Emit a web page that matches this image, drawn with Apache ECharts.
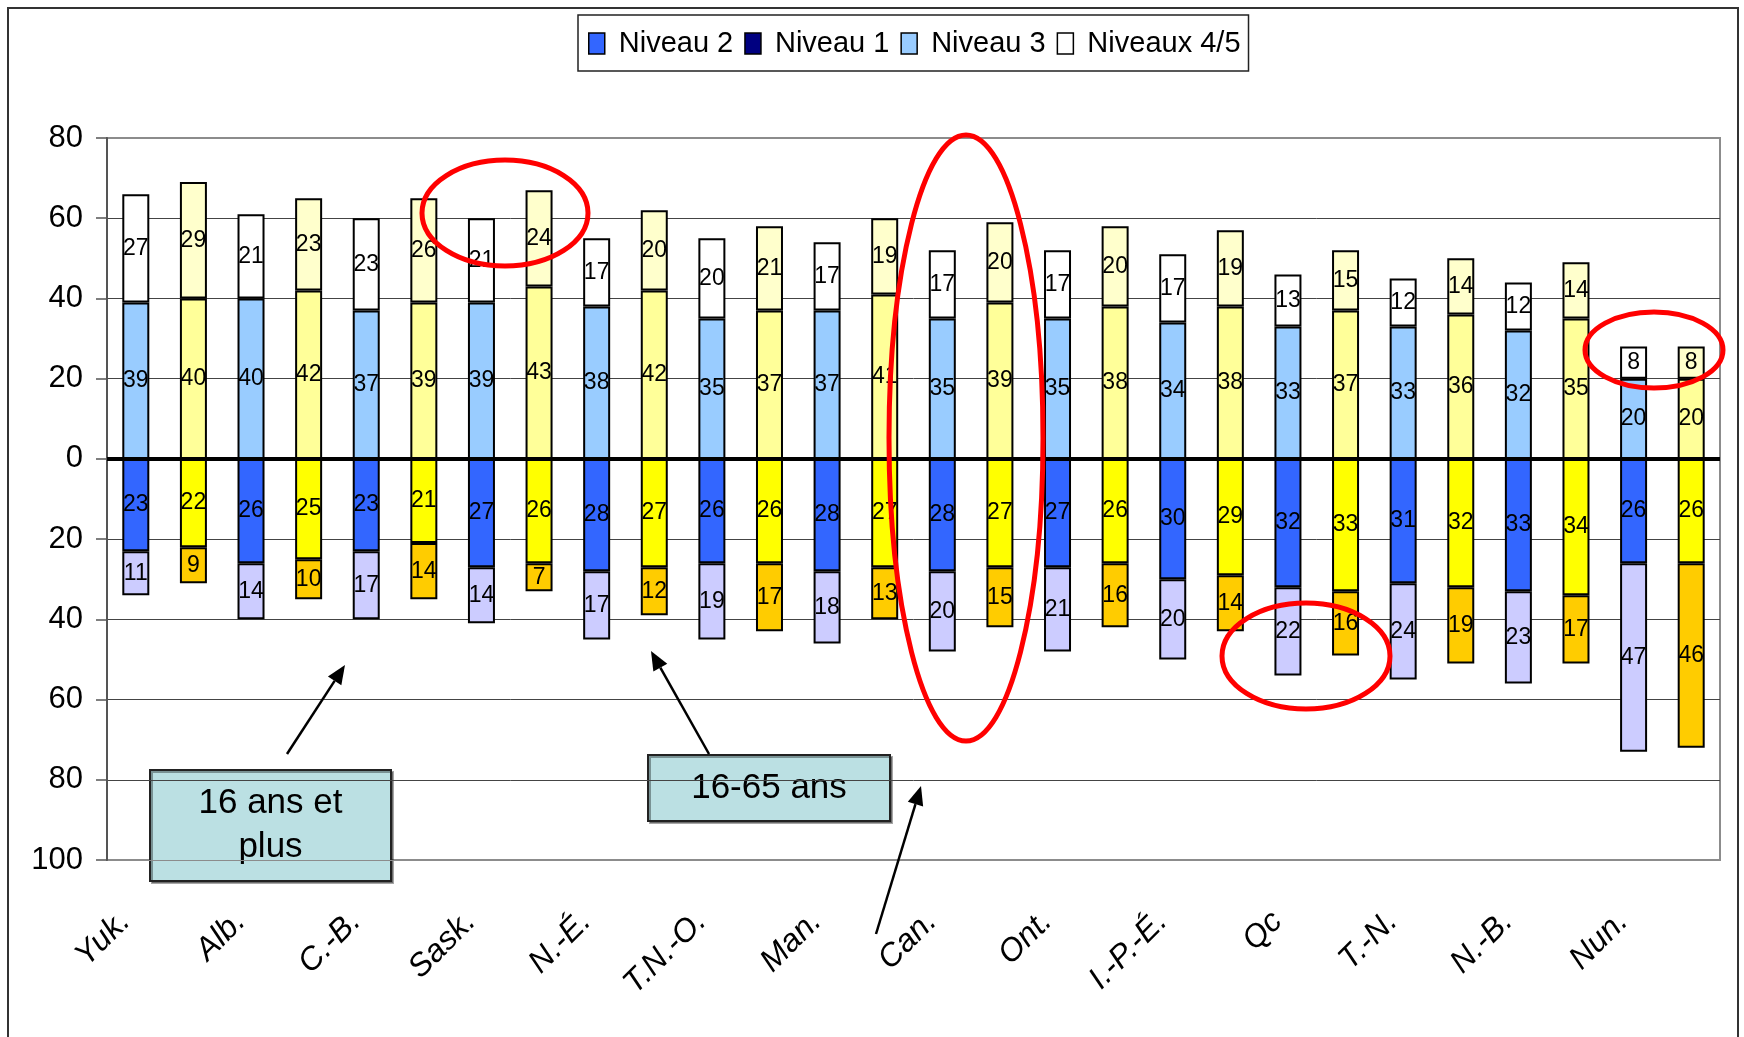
<!DOCTYPE html>
<html><head><meta charset="utf-8">
<script src="https://cdn.jsdelivr.net/npm/echarts@6/dist/echarts.min.js"></script>
<style>html,body{margin:0;padding:0;background:#fff}#c{width:1744px;height:1037px}</style>
</head><body><div id="c"></div>
<script>
const regions = ['Yuk.','Alb.','C.-B.','Sask.','N.-É.','T.N.-O.','Man.','Can.','Ont.','I.-P.-É.','Qc','T.-N.','N.-B.','Nun.'];
// 16 ans et plus
const n2_16   = [23,26,23,27,28,26,28,28,27,30,32,31,33,26];
const n1_16   = [11,14,17,14,17,19,18,20,21,20,22,24,23,47];
const n3_16   = [39,40,37,39,38,35,37,35,35,34,33,33,32,20];
const n45_16  = [27,21,23,21,17,20,17,17,17,17,13,12,12,8];
// 16-65 ans
const n2_1665  = [22,25,21,26,27,26,27,27,26,29,33,32,34,26];
const n1_1665  = [9,10,14,7,12,17,13,15,16,14,16,19,17,46];
const n3_1665  = [40,42,39,43,42,37,41,39,38,38,37,36,35,20];
const n45_1665 = [29,23,26,24,20,21,19,20,20,19,15,14,14,8];
const seriesNames = ['Niveau 2','Niveau 1','Niveau 3','Niveaux 4/5'];

const legendColors = ['#3366FF','#000080','#99CCFF','#FFFFFF'];
const colors16 = ['#3366FF','#CCCCFF','#99CCFF','#FFFFFF'];
const colors1665 = ['#FFFF00','#FFCC00','#FFFF99','#FFFFCC'];

const categories = [];
regions.forEach(r => { categories.push(r); categories.push(r + ' (16-65)'); });

function build(a16, a1665, sign, k) {
  const out = [];
  for (let i = 0; i < regions.length; i++) {
    out.push({ value: sign * a16[i], itemStyle: { color: colors16[k] } });
    out.push({ value: sign * a1665[i], itemStyle: { color: colors1665[k] } });
  }
  return out;
}
const dataSets = [
  build(n2_16, n2_1665, -1, 0),
  build(n1_16, n1_1665, -1, 1),
  build(n3_16, n3_1665, 1, 2),
  build(n45_16, n45_1665, 1, 3)
];

function hasFont(name) {
  const c = document.createElement('canvas').getContext('2d');
  c.font = '40px monospace';
  const w0 = c.measureText('Niveau 2727').width;
  c.font = '40px "' + name + '", monospace';
  return Math.abs(c.measureText('Niveau 2727').width - w0) > 0.5;
}
const narrowOK = hasFont('Liberation Sans Narrow');
const NARROW = '"Liberation Sans Narrow", "Liberation Sans", Arial, sans-serif';
const SANS = '"Liberation Sans", Arial, sans-serif';
const labelSize = narrowOK ? 27 : 23;
const legendFont = narrowOK ? NARROW : SANS;
const legendSize = narrowOK ? 34 : 29;

const series = seriesNames.map((name, k) => ({
  name, type: 'bar', stack: 'all', barWidth: 27,
  itemStyle: { color: legendColors[k], borderColor: '#000', borderWidth: 2 },
  label: { show: true, position: 'inside', color: '#000', fontFamily: NARROW, fontSize: labelSize,
           formatter: p => Math.abs(p.value) },
  data: dataSets[k],
  z: 2
}));
series[0].markLine = {
  silent: true, symbol: 'none', label: { show: false },
  lineStyle: { color: '#000', width: 4, type: 'solid' },
  data: [{ yAxis: 0 }], z: 5
};

function arrow(x1, y1, x2, y2) {
  const a = Math.atan2(y2 - y1, x2 - x1);
  const L = 19, W = 8;
  const bx = x2 - L * Math.cos(a), by = y2 - L * Math.sin(a);
  const px = -Math.sin(a) * W, py = Math.cos(a) * W;
  return [
    { type: 'line', z: 100, shape: { x1, y1, x2: bx, y2: by }, style: { stroke: '#000', lineWidth: 2.5 } },
    { type: 'polygon', z: 100, shape: { points: [[x2, y2], [bx + px, by + py], [bx - px, by - py]] }, style: { fill: '#000' } }
  ];
}
function ellipse(cx, cy, rx, ry) {
  return { type: 'ellipse', z: 100, shape: { cx, cy, rx, ry }, style: { fill: null, stroke: '#FF0000', lineWidth: 5 } };
}
function box(x, y, w, h, text) {
  return { type: 'group', z: 100, children: [
    { type: 'rect', shape: { x, y, width: w, height: h },
      style: { fill: '#BBE0E3', stroke: '#222', lineWidth: 2, shadowColor: 'rgba(0,0,0,0.35)', shadowOffsetX: 2, shadowOffsetY: 2 } },
    { type: 'text', x: x + w / 2, y: y + h / 2,
      style: { text, fill: '#000', font: '35px ' + SANS, align: 'center', verticalAlign: 'middle', lineHeight: 44 } }
  ]};
}

const graphic = [
  { type: 'rect', z: 0, shape: { x: 8, y: 8, width: 1730, height: 1040 }, style: { fill: null, stroke: '#333', lineWidth: 2 } },
  ellipse(505, 213, 83, 53),
  ellipse(966, 438, 77, 303),
  ellipse(1306, 656, 84, 53),
  ellipse(1654, 350, 69, 38),
  ...arrow(287, 754, 345, 665),
  ...arrow(709, 754, 651, 651),
  ...arrow(876, 934, 921, 786),
  box(150, 770, 241, 111, '16 ans et\nplus'),
  box(648, 755, 242, 66, '16-65 ans')
];

const gridColors = ['#8c8c8c','#444','#444','#444','#444','#444','#444','#444','#444','#8c8c8c'];

const option = {
  animation: false,
  backgroundColor: '#fff',
  legend: {
    left: 578, top: 15,
    data: seriesNames,
    icon: 'rect', itemWidth: 16, itemHeight: 21, itemGap: 11,
    itemStyle: { borderColor: '#000', borderWidth: 1.5 },
    textStyle: { fontFamily: legendFont, fontSize: legendSize, color: '#000', padding: [0, 0, 0, 9] },
    borderColor: '#222', borderWidth: 1.5,
    padding: [14, 8, 13, 10],
    selectedMode: false
  },
  grid: { left: 107, right: 24, top: 138, bottom: 177, show: true, borderColor: '#8c8c8c', borderWidth: 2 },
  xAxis: {
    type: 'category', data: categories,
    axisLine: { show: false }, axisTick: { show: false },
    axisLabel: { interval: 1, rotate: 45, margin: 46, padding: [0, 15, 0, 0],
                 fontFamily: SANS, fontStyle: 'italic', fontSize: 32, color: '#000' }
  },
  yAxis: {
    type: 'value', min: -100, max: 80, interval: 20,
    axisLine: { show: true, lineStyle: { color: '#555', width: 2 } },
    axisTick: { show: true, length: 11, lineStyle: { color: '#555', width: 1.5 } },
    axisLabel: { margin: 24, fontFamily: SANS, fontSize: 31, color: '#000', formatter: v => Math.abs(v) },
    splitLine: { show: true, lineStyle: { color: gridColors, width: 1 } }
  },
  series,
  graphic
};
echarts.init(document.getElementById('c')).setOption(option);
</script>
</body></html>
